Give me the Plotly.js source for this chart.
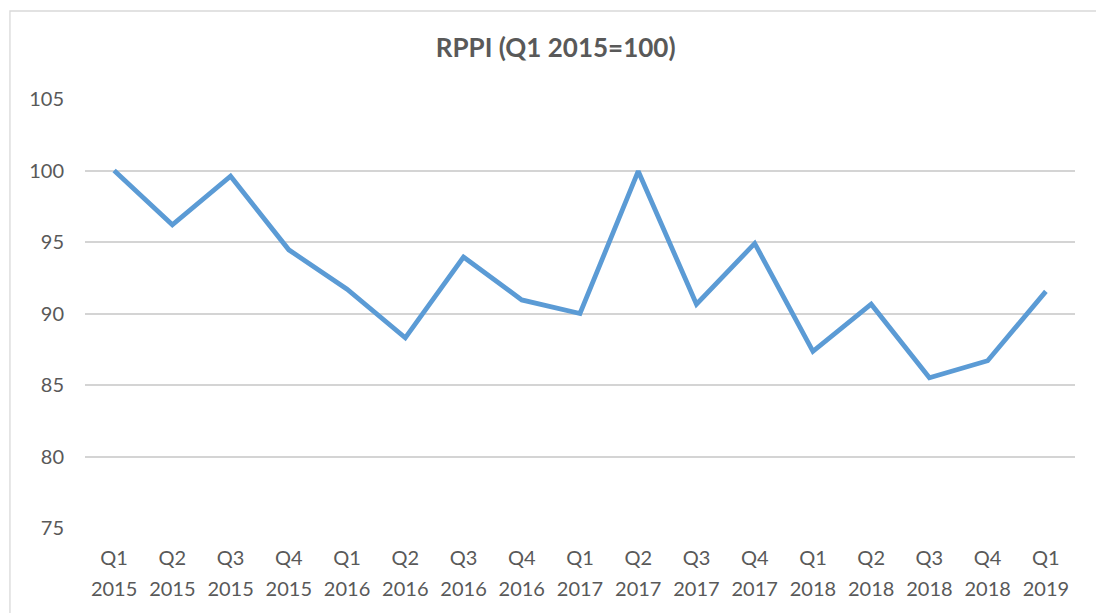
<!DOCTYPE html>
<html>
<head>
<meta charset="utf-8">
<script src="https://cdn.plot.ly/plotly-3.0.1.min.js"></script>
<style>html,body{margin:0;padding:0;background:#fff;}#chart{width:1096px;height:613px;}</style>
</head>
<body>
<div id="chart"></div>
<script>
const quarters = ["Q1","Q2","Q3","Q4","Q1","Q2","Q3","Q4","Q1","Q2","Q3","Q4","Q1","Q2","Q3","Q4","Q1"];
const years = ["2015","2015","2015","2015","2016","2016","2016","2016","2017","2017","2017","2017","2018","2018","2018","2018","2019"];
const categories = quarters.map((q, i) => q + " " + years[i]);
const rppi = [100.0, 96.2, 99.6, 94.45, 91.7, 88.3, 93.95, 90.95, 90.0, 99.95, 90.65, 94.9, 87.35, 90.65, 85.5, 86.7, 91.55];
const yTicks = [75, 80, 85, 90, 95, 100, 105];

const tickFont = {family: "Lato, 'Open Sans', sans-serif", size: 20, color: "#595959"};
const xRange = [-0.5, categories.length - 0.5];

const traces = [
  {
    type: "scatter", mode: "lines",
    x: categories, y: rppi,
    line: {color: "#5B9BD5", width: 4.8, shape: "linear"},
    xaxis: "x", yaxis: "y",
    hoverinfo: "x+y"
  },
  {
    type: "scatter", mode: "lines",
    x: categories, y: rppi,
    line: {color: "rgba(0,0,0,0)", width: 0},
    xaxis: "x2", yaxis: "y",
    hoverinfo: "skip", showlegend: false
  }
];

const layout = {
  width: 1096, height: 613,
  paper_bgcolor: "#ffffff", plot_bgcolor: "#ffffff",
  showlegend: false,
  margin: {l: 85, r: 21, t: 99, b: 85},
  title: {
    text: "<b>RPPI (Q1 2015=100)</b>",
    font: {family: "Lato, 'Open Sans', sans-serif", size: 26, color: "#595959"},
    x: 0.507, xanchor: "center", y: 0.922, yanchor: "middle", yref: "container"
  },
  xaxis: {
    type: "category", categoryorder: "array", categoryarray: categories, range: xRange,
    tickmode: "array", tickvals: categories, ticktext: quarters,
    showgrid: false, zeroline: false, showline: false, ticks: "",
    tickfont: tickFont, ticklabelstandoff: 16, fixedrange: true
  },
  xaxis2: {
    type: "category", categoryorder: "array", categoryarray: categories, range: xRange,
    overlaying: "x", side: "bottom", anchor: "y",
    tickmode: "array", tickvals: categories, ticktext: years,
    showgrid: false, zeroline: false, showline: false, ticks: "",
    tickfont: tickFont, ticklabelstandoff: 47, fixedrange: true
  },
  yaxis: {
    range: [75, 105], tickmode: "array", tickvals: yTicks,
    showgrid: true, gridcolor: "#D4D4D4", gridwidth: 1.5,
    zeroline: false, showline: false, ticks: "",
    tickfont: tickFont, ticklabelstandoff: 20, fixedrange: true
  },
  shapes: [{
    type: "rect", xref: "paper", yref: "paper",
    x0: -0.0758, x1: 1.2, y0: -0.5, y1: 1.2051,
    line: {color: "#D9D9D9", width: 1.3}, fillcolor: "rgba(0,0,0,0)", layer: "below"
  }]
};

Plotly.newPlot("chart", traces, layout, {displayModeBar: false});
</script>
</body>
</html>
